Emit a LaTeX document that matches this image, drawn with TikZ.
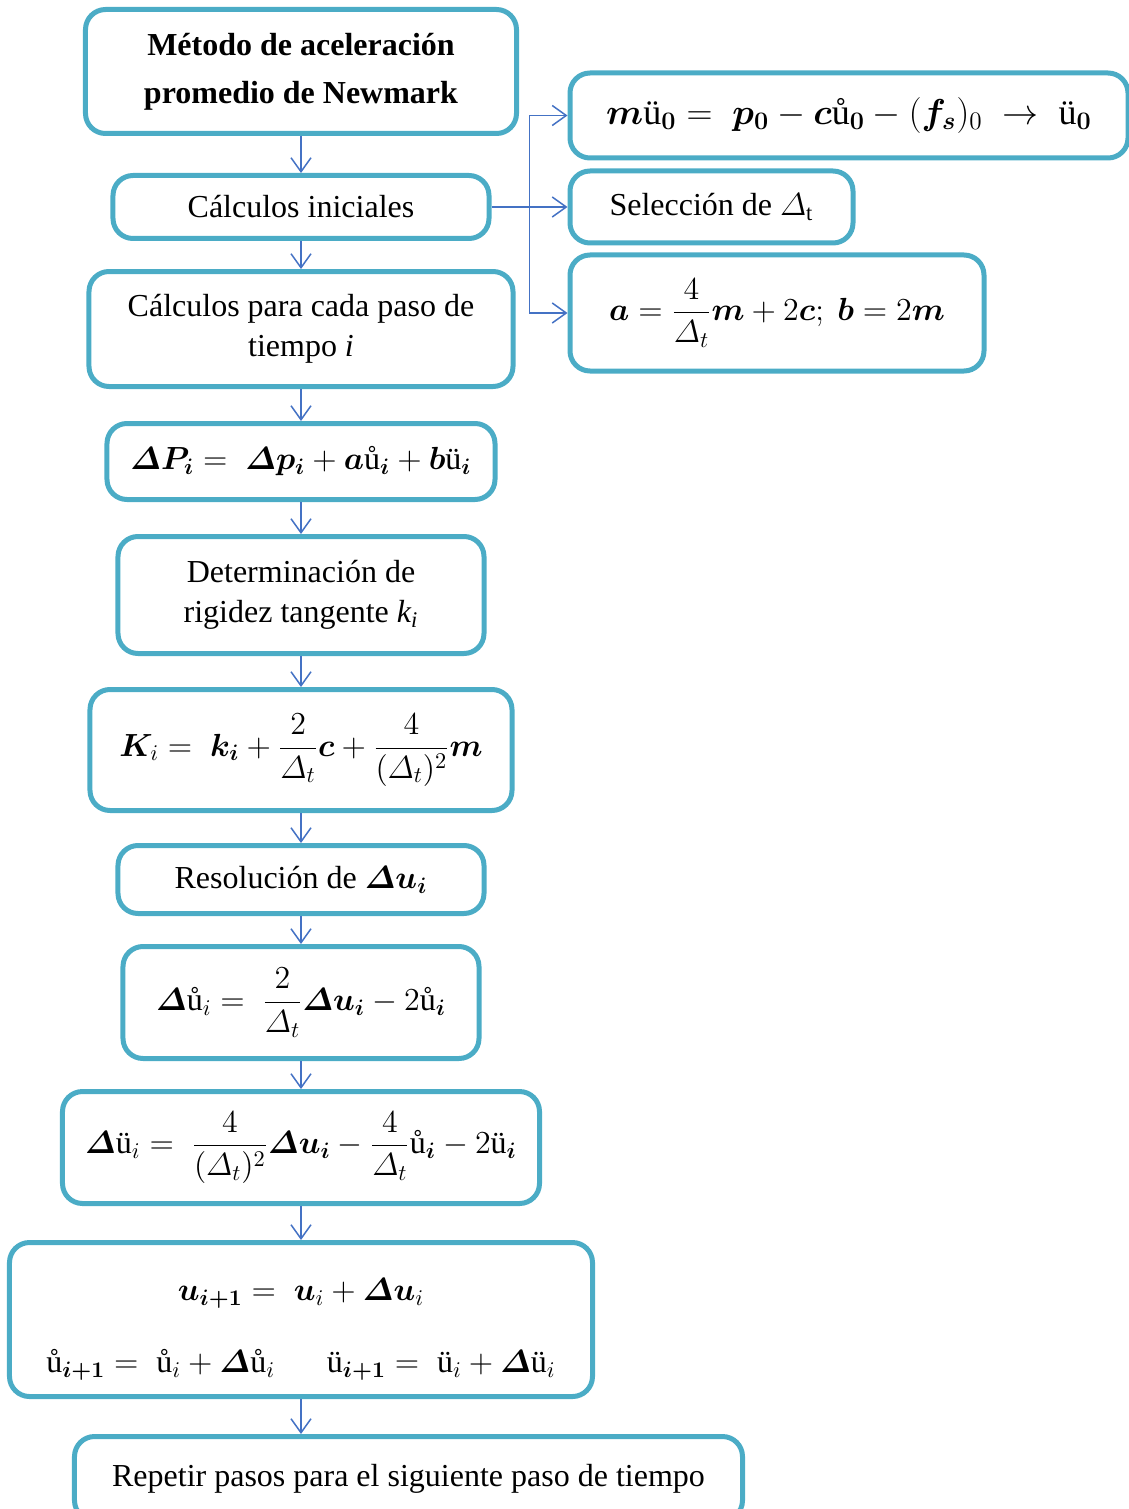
\RequirePackage{fix-cm}
\documentclass[tikz,border=0pt]{standalone}
\usepackage{amsmath,amssymb,bm}
\usepackage{fontspec}
\setmainfont{Liberation Serif}
\usetikzlibrary{arrows.meta,positioning}
\definecolor{boxblue}{HTML}{4BACC6}
\definecolor{lineblue}{HTML}{4472C4}
\newcommand{\ud}{\text{ů}}
\newcommand{\udd}{\text{ü}}
\newcommand{\Dt}{\varDelta_t}

\begin{document}
\begin{tikzpicture}[
    node distance=16pt,
    stepbox/.style={draw=boxblue, line width=2.5pt, rounded corners=10pt, align=center, inner sep=4pt, font=\fontsize{16}{20}\selectfont},
    titlebox/.style={stepbox, font=\fontsize{16}{24}\selectfont\bfseries},
    arrow/.style={-{Straight Barb[length=7pt,width=10pt]}, line width=0.75pt, draw=lineblue}
]
\useasboundingbox (-150.5pt,35.75pt) rectangle (414pt,-718.75pt);
\node[titlebox, minimum width=215.5pt, minimum height=62pt] (title) {Método de aceleración\\promedio de Newmark};
\node[stepbox, minimum width=188pt, minimum height=31.5pt, below=18.5pt of title] (init) {Cálculos iniciales};
\node[stepbox, minimum width=212pt, minimum height=57.5pt, below=14pt of init] (each) {Cálculos para cada paso de\\tiempo \textit{i}};
\node[stepbox, minimum width=194pt, minimum height=38pt, below=of each] (load) {$\bm{\varDelta P_i} =\; \bm{\varDelta p_i} + \bm{a}\ud_{\bm i} + \bm{b}\udd_{\bm i}$};
\node[stepbox, minimum width=183pt, minimum height=58.5pt, below=of load] (stiff) {Determinación de\\rigidez tangente \textit{k\textsubscript{i}}};
\node[stepbox, minimum width=211pt, minimum height=60.5pt, below=15.5pt of stiff] (keff) {$\bm{K}_i =\; \bm{k_i} + \dfrac{2}{\Dt}\bm{c} + \dfrac{4}{(\Dt)^2}\bm{m}$};
\node[stepbox, minimum width=183pt, minimum height=34pt, below=15pt of keff] (solve) {Resolución de $\bm{\varDelta u_i}$};
\node[stepbox, minimum width=178pt, minimum height=56pt, below=14pt of solve] (vel) {$\bm{\varDelta}\ud_i =\; \dfrac{2}{\Dt}\bm{\varDelta u_i} - 2\ud_{\bm i}$};
\node[stepbox, minimum width=238.5pt, minimum height=56pt, below=14pt of vel] (acc) {$\bm{\varDelta}\udd_i =\; \dfrac{4}{(\Dt)^2}\bm{\varDelta u_i} - \dfrac{4}{\Dt}\ud_{\bm i} - 2\udd_{\bm i}$};
\node[stepbox, minimum width=291.5pt, minimum height=77pt, below=17pt of acc] (upd) {\rule{0pt}{17pt}\raisebox{-4pt}{$\bm{u_{i+1}} =\; \bm{u}_i + \bm{\varDelta u}_i$}\\[20pt]
  $\ud_{\bm{i+1}} =\; \ud_i + \bm{\varDelta}\ud_i$\hspace{26pt}$\udd_{\bm{i+1}} =\; \udd_i + \bm{\varDelta}\udd_i$};
\node[stepbox, minimum width=334pt, minimum height=42pt, below=17.5pt of upd, xshift=53.75pt] (repeat) {Repetir pasos para el siguiente paso de tiempo};
% initial values on the right
\node[stepbox, minimum width=141.5pt, minimum height=36pt, right=38pt of init] (sel) {Selección de $\varDelta_{\mathrm{t}}$};
\node[stepbox, minimum width=279pt, minimum height=42.5pt, above=4pt of sel.north west, anchor=south west, font=\fontsize{18}{22}\selectfont] (eqm) {$\bm{m}\udd_{\bm 0} =\; \bm{p_0} - \bm{c}\ud_{\bm 0} - (\bm{f_s})_0 \;\to\; \udd_{\bm 0}$};
\node[stepbox, minimum width=207pt, minimum height=58pt, below=3.5pt of sel.south west, anchor=north west] (coef) {$\bm{a} = \dfrac{4}{\Dt}\bm{m} + 2\bm{c};\ \bm{b} = 2\bm{m}$};
\coordinate[right=19pt of init.east] (split);
\draw[arrow] (title) -- (init);
\draw[arrow] (init) -- (each);
\draw[arrow] (each) -- (load);
\draw[arrow] (load) -- (stiff);
\draw[arrow] (stiff) -- (keff);
\draw[arrow] (keff) -- (solve);
\draw[arrow] (solve) -- (vel);
\draw[arrow] (vel) -- (acc);
\draw[arrow] (acc) -- (upd);
\draw[arrow] (upd.south) -- (upd.south |- repeat.north);
\draw[arrow] (init) -- (sel);
\draw[arrow] (split) |- (eqm);
\draw[arrow] (split) |- (coef);
\end{tikzpicture}
\end{document}
